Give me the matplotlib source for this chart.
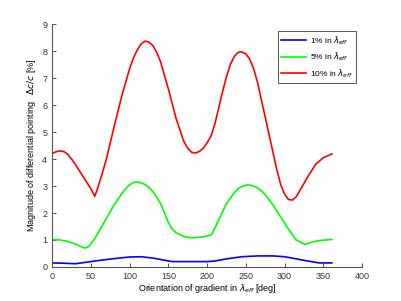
import numpy as np
import matplotlib.pyplot as plt

# orientation [deg] and magnitude [%]
angle_r = [0, 5, 10, 15, 20, 25, 30, 40, 50, 55, 58, 65, 70, 80, 90, 100, 105, 110, 115, 120, 125, 130, 135,
           140, 150, 160, 170, 175, 180, 185, 190, 195, 200, 205, 210, 215, 220, 225, 230, 235, 240, 244,
           250, 255, 260, 265, 270, 280, 290, 295, 300, 305, 310, 315, 320, 330, 340, 350, 361]
red = [4.2, 4.27, 4.3, 4.28, 4.18, 4.0, 3.8, 3.35, 2.9, 2.62, 2.85, 3.5, 4.0, 5.2, 6.35, 7.35, 7.75, 8.05, 8.27,
       8.37, 8.33, 8.2, 7.95, 7.6, 6.6, 5.5, 4.65, 4.4, 4.25, 4.22, 4.28, 4.4, 4.6, 4.85, 5.3, 5.9, 6.5, 7.05,
       7.5, 7.8, 7.95, 7.97, 7.9, 7.7, 7.35, 6.85, 6.2, 4.9, 3.6, 3.05, 2.7, 2.5, 2.48, 2.6, 2.85, 3.35, 3.8,
       4.05, 4.19]

angle_g = [0, 10, 20, 30, 37, 42, 47, 55, 60, 70, 80, 90, 95, 100, 105, 110, 115, 120, 125, 130, 140, 150,
           155, 160, 170, 180, 190, 200, 206, 215, 225, 235, 240, 245, 250, 255, 260, 265, 270, 275, 285,
           295, 305, 315, 326, 335, 345, 361]
green = [1.02, 1.0, 0.95, 0.85, 0.76, 0.7, 0.75, 1.05, 1.3, 1.8, 2.3, 2.72, 2.9, 3.05, 3.13, 3.15, 3.12,
         3.05, 2.95, 2.8, 2.35, 1.65, 1.4, 1.27, 1.13, 1.08, 1.1, 1.15, 1.2, 1.75, 2.35, 2.75, 2.9, 2.98,
         3.03, 3.04, 3.0, 2.93, 2.82, 2.68, 2.3, 1.85, 1.4, 1.0, 0.84, 0.92, 0.98, 1.02]

angle_b = [0, 15, 30, 45, 60, 80, 100, 115, 130, 145, 155, 175, 200, 210, 225, 245, 265, 285, 300, 315,
           330, 345, 361]
blue = [0.15, 0.14, 0.12, 0.18, 0.24, 0.31, 0.37, 0.38, 0.33, 0.25, 0.2, 0.2, 0.2, 0.22, 0.3, 0.38, 0.41,
        0.41, 0.38, 0.3, 0.22, 0.15, 0.15]

labels = [r'1% in $\lambda_{eff}$', r'5% in $\lambda_{eff}$', r'10% in $\lambda_{eff}$']

plt.rcParams['font.family'] = ['Liberation Sans', 'DejaVu Sans']
plt.rcParams['mathtext.fontset'] = 'dejavusans'

fig = plt.figure(figsize=(4.01, 3.01), dpi=100)
ax = fig.add_axes([0.13, 0.113, 0.773, 0.807])

ax.plot(angle_b, blue, color='#0000ff', lw=1.2, label=labels[0])
ax.plot(angle_g, green, color='#00ff00', lw=1.2, label=labels[1])
ax.plot(angle_r, red, color='#ff0000', lw=1.2, label=labels[2])

ax.set_xlim(0, 400)
ax.set_ylim(0, 9)
ax.set_xticks(np.arange(0, 401, 50))
ax.set_yticks(np.arange(0, 10, 1))
ax.tick_params(direction='in', length=3, labelsize=6.5, colors='#333333', width=0.6)
for s in ['top', 'right']:
    ax.spines[s].set_visible(False)
for s in ['left', 'bottom']:
    ax.spines[s].set_color('#555555')
    ax.spines[s].set_linewidth(0.8)

ax.set_xlabel(r'Orientation of gradient in $\lambda_{eff}$ [deg]', fontsize=6.5, labelpad=1)
ax.set_ylabel(r'Magnitude of differential pointing   $\Delta c/c$ [%]', fontsize=6.5, labelpad=3)

leg = ax.legend(loc='upper right', fontsize=6, fancybox=False, framealpha=1,
                edgecolor='#555555', handlelength=3, borderpad=0.4, labelspacing=0.5,
                handletextpad=0.4, bbox_to_anchor=(0.995, 0.99))
leg.get_frame().set_linewidth(0.7)

fig.savefig('out.png', dpi=100)
